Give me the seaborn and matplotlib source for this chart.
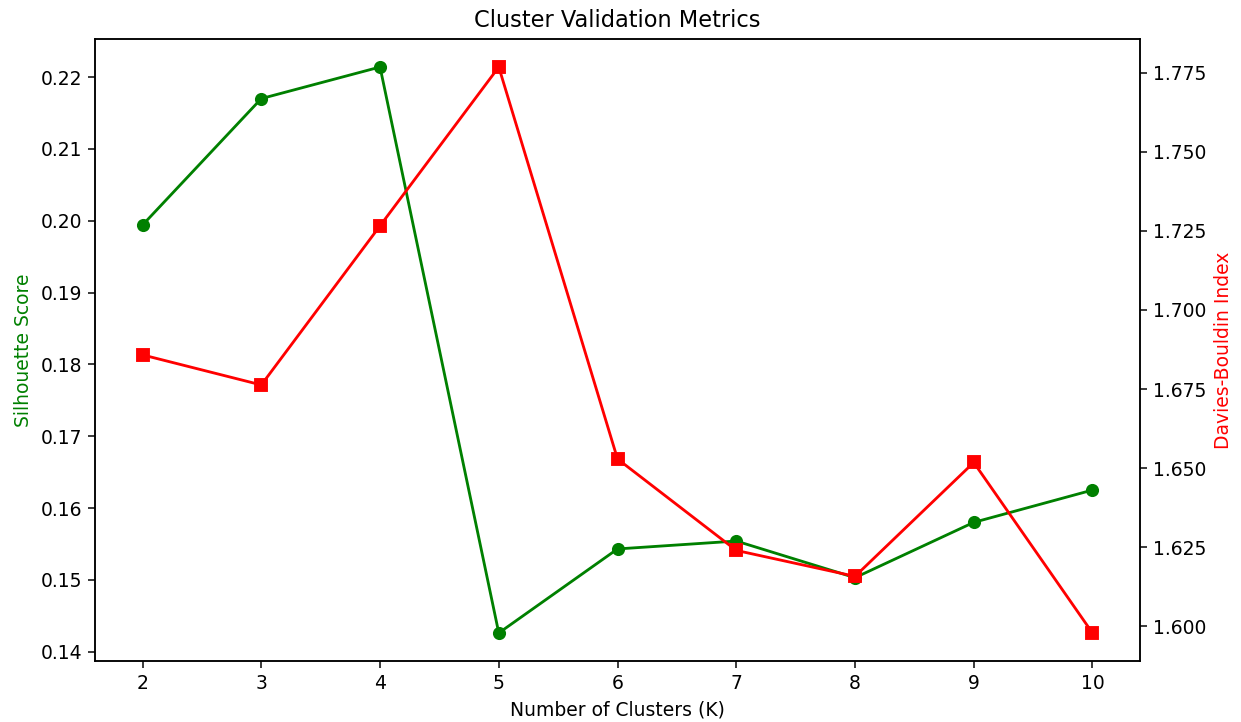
import matplotlib
matplotlib.use("Agg")
import matplotlib.pyplot as plt
import seaborn as sns

# Cluster counts evaluated and their validation scores
k_values = [2, 3, 4, 5, 6, 7, 8, 9, 10]
silhouette = [0.1994, 0.2170, 0.2214, 0.1426, 0.1543, 0.1554, 0.1503, 0.1580, 0.1625]
davies_bouldin = [1.6858, 1.6763, 1.7266, 1.7768, 1.6529, 1.6240, 1.6158, 1.6518, 1.5979]

DPI = 135
fig, ax1 = plt.subplots(figsize=(1241 / DPI, 722 / DPI), dpi=DPI)
fig.subplots_adjust(left=0.0766, right=0.9186, top=0.9464, bottom=0.0841)

sns.lineplot(x=k_values, y=silhouette, ax=ax1, color="green", marker="o",
             markersize=6, markeredgecolor="green", markeredgewidth=1, linewidth=1.5)
ax1.set_xlabel("Number of Clusters (K)")
ax1.set_ylabel("Silhouette Score", color="green")
ax1.set_xticks(k_values)

ax2 = ax1.twinx()
sns.lineplot(x=k_values, y=davies_bouldin, ax=ax2, color="red", marker="s",
             markersize=6, markeredgecolor="red", markeredgewidth=1, linewidth=1.5)
ax2.set_ylabel("Davies-Bouldin Index", color="red")

ax1.set_title("Cluster Validation Metrics")

fig.savefig("out.png", dpi=DPI)
